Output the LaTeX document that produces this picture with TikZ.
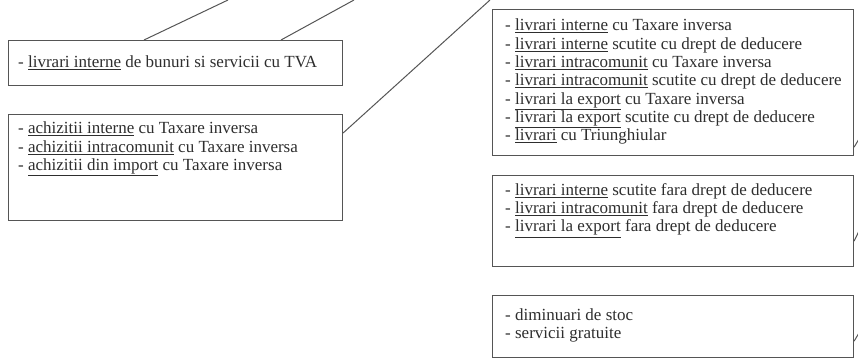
\documentclass[tikz,border=0pt]{standalone}
\usepackage{fontspec}
\setmainfont{Liberation Serif}
\definecolor{boxgray}{HTML}{555555}
\definecolor{txtgray}{HTML}{2E2E2E}
\newcommand{\ul}[1]{\underline{#1}}
\tikzset{
  box/.style={draw=boxgray, line width=1.1pt, anchor=north west, inner sep=0pt, minimum width=#1},
  txt/.style={anchor=north west, inner sep=0pt, align=left, text=txtgray,
              font=\fontsize{17}{18.3}\selectfont},
  conn/.style={draw=boxgray, line width=1pt},
}
\begin{document}
\begin{tikzpicture}[x=1pt,y=-1pt]
\useasboundingbox (0,0) rectangle (858,361);
% boxes
\node[box=334pt, minimum height=45pt] (A) at (8,40) {};
\node[box=334pt, minimum height=106pt] (B) at (8,114) {};
\node[box=361pt, minimum height=146pt] (C) at (492,9) {};
\node[box=361pt, minimum height=91pt] (D) at (492,175) {};
\node[box=361pt, minimum height=62pt] (E) at (492,295) {};
% texts
\node[txt] (tA) at (18,56) {- \ul{livrari interne} de bunuri si servicii cu TVA};
\node[txt] (tB) at (18,122) {- \ul{achizitii interne} cu Taxare inversa\\
- \ul{achizitii intracomunit} cu Taxare inversa\\
- \ul{achizitii din import} cu Taxare inversa};
\node[txt] (tC) at (505,19) {- \ul{livrari interne} cu Taxare inversa\\
- \ul{livrari interne} scutite cu drept de deducere\\
- \ul{livrari intracomunit} cu Taxare inversa\\
- \ul{livrari intracomunit} scutite cu drept de deducere\\
- \ul{livrari la export} cu Taxare inversa\\
- \ul{livrari la export} scutite cu drept de deducere\\
- \ul{livrari} cu Triunghiular};
\node[txt] (tD) at (505,183) {- \ul{livrari interne} scutite fara drept de deducere\\
- \ul{livrari intracomunit} fara drept de deducere\\
- \ul{livrari la export} fara drept de deducere};
\node[txt] (tE) at (505,308) {- diminuari de stoc\\
- servicii gratuite};
% free ends
\coordinate (pA1) at (228,0);
\coordinate (pA2) at (354,0);
\coordinate (pB) at (490,0);
\coordinate (pC) at (859,139);
\coordinate (pD) at (859,231);
\coordinate (pE) at (859,333);
% connectors
\draw[conn] ([xshift=136pt]A.north west) -- (pA1);
\draw[conn] ([xshift=273pt]A.north west) -- (pA2);
\draw[conn] ([yshift=-19pt]B.north east) -- (pB);
\draw[conn] ([yshift=9pt]C.south east) -- (pC);
\draw[conn] ([yshift=26pt]D.south east) -- (pD);
\draw[conn] ([yshift=17pt]E.south east) -- (pE);
\end{tikzpicture}
\end{document}
